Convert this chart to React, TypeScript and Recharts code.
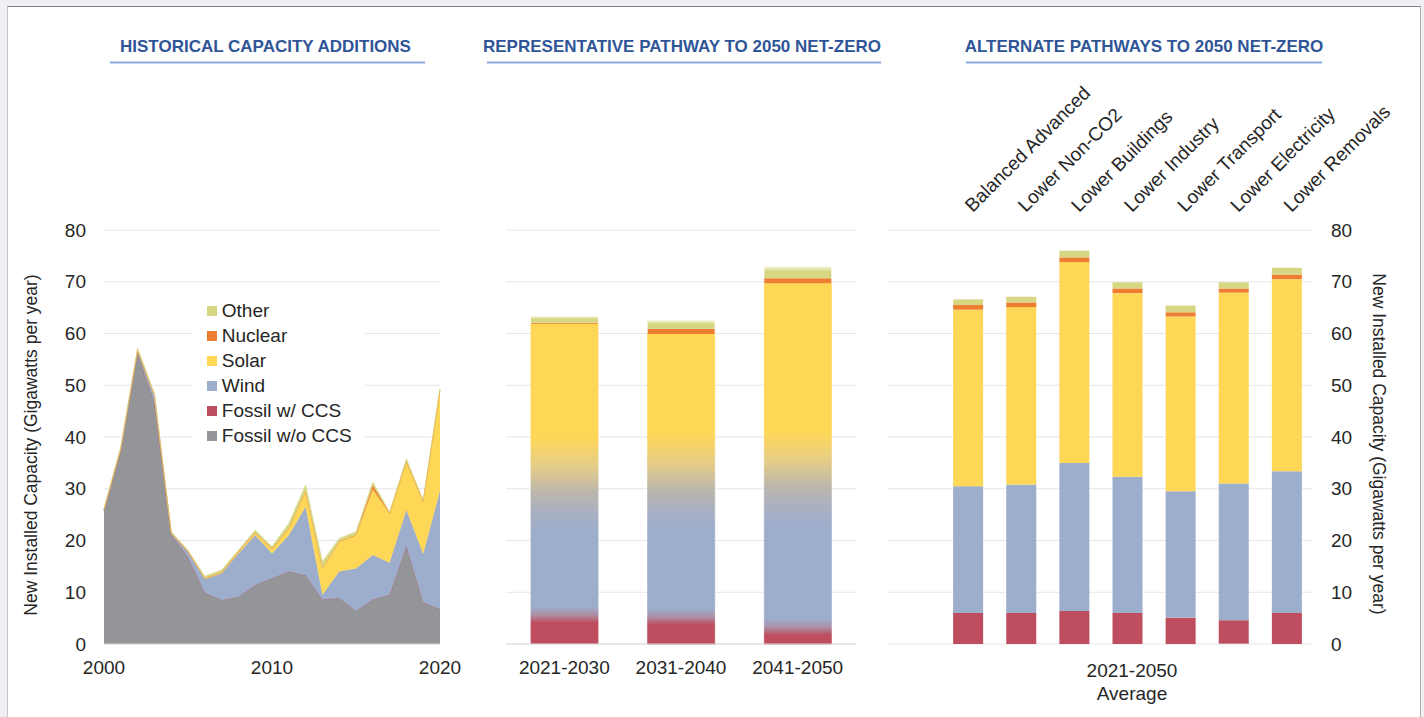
import React from 'react';
import { AreaChart, Area, BarChart, Bar, Cell, XAxis, YAxis, CartesianGrid, Legend } from 'recharts';

const FONT = '"Liberation Sans", Arial, Helvetica, sans-serif';
const TEXT = '#262626';
const GRID = '#e6e6e6';
const AXIS = '#d9d9d9';
const TITLE = '#2f5597';

const COLORS: Record<string, string> = {
  other: '#d7d682',
  nuclear: '#ed7d31',
  solar: '#fed757',
  wind: '#9dadcc',
  fossilCcs: '#be4e5f',
  fossilNo: '#939598',
};
const MID = '#bdb7ab';
const TAN = '#e6cd86';

// stacking order, bottom to top
const SERIES = [
  { key: 'fossilNo', name: 'Fossil w/o CCS' },
  { key: 'fossilCcs', name: 'Fossil w/ CCS' },
  { key: 'wind', name: 'Wind' },
  { key: 'solar', name: 'Solar' },
  { key: 'nuclear', name: 'Nuclear' },
  { key: 'other', name: 'Other' },
];

const Y_TICKS = [0, 10, 20, 30, 40, 50, 60, 70, 80];

// historical capacity additions (GW per year)
const HIST_YEARS = [2000, 2001, 2002, 2003, 2004, 2005, 2006, 2007, 2008, 2009, 2010, 2011, 2012, 2013, 2014, 2015, 2016, 2017, 2018, 2019, 2020];
const HIST_FOSSIL_NO = [25.8, 37.4, 56.3, 46.6, 21.2, 16.8, 9.9, 8.5, 9.1, 11.4, 12.7, 14.0, 13.3, 8.6, 8.9, 6.4, 8.6, 9.5, 18.9, 8.0, 6.7];
const HIST_FOSSIL_CCS = [0, 0, 0, 0, 0, 0, 0, 0, 0, 0, 0, 0, 0, 0, 0, 0, 0, 0, 0, 0, 0];
const HIST_WIND = [0.1, 0.3, 0.4, 1.4, 0.2, 1.0, 2.6, 5.1, 8.4, 9.6, 4.8, 7.0, 13.2, 0.9, 5.1, 8.2, 8.6, 6.2, 7.0, 9.4, 22.9];
const HIST_SOLAR = [0, 0, 0, 0, 0, 0, 0.1, 0.1, 0.3, 0.4, 0.8, 1.3, 2.9, 5.1, 5.7, 6.4, 12.7, 9.5, 9.3, 10.1, 19.4];
const HIST_NUCLEAR = [0.1, 0.1, 0.1, 0.1, 0.1, 0.1, 0.1, 0.1, 0.1, 0.1, 0.1, 0.1, 0.1, 0.1, 0.1, 0.1, 0.8, 0.1, 0.1, 0.1, 0.1];
const HIST_OTHER = [0.2, 0.3, 0.4, 0.3, 0.2, 0.2, 0.4, 0.5, 0.2, 0.5, 0.4, 0.9, 1.2, 1.2, 0.6, 0.6, 0.6, 0.2, 0.5, 0.2, 0.2];

// representative pathway
const MID_PERIODS = ['2021-2030', '2031-2040', '2041-2050'];
const MID_FOSSIL_NO = [0.1, 0, 0];
const MID_FOSSIL_CCS = [5.3, 5.0, 3.0];
const MID_WIND = [23.1, 24.0, 26.5];
const MID_SOLAR = [33.4, 30.9, 40.2];
const MID_NUCLEAR = [0.2, 1.0, 1.0];
const MID_OTHER = [1.2, 1.6, 2.2];

// alternate pathways, 2021-2050 average (first slot left empty)
const ALT_NAMES = ['', 'Balanced Advanced', 'Lower Non-CO2', 'Lower Buildings', 'Lower Industry', 'Lower Transport', 'Lower Electricity', 'Lower Removals'];
const ALT_FOSSIL_NO = [0, 0, 0, 0, 0, 0, 0.1, 0];
const ALT_FOSSIL_CCS = [0, 6.0, 6.0, 6.4, 6.0, 5.1, 4.5, 6.0];
const ALT_WIND = [0, 24.5, 24.8, 28.6, 26.3, 24.4, 26.4, 27.4];
const ALT_SOLAR = [0, 34.1, 34.3, 38.8, 35.5, 33.8, 36.9, 37.1];
const ALT_NUCLEAR = [0, 0.9, 0.9, 0.9, 0.9, 0.8, 0.8, 0.9];
const ALT_OTHER = [0, 1.1, 1.1, 1.3, 1.2, 1.3, 1.2, 1.3];

const histData = HIST_YEARS.map((year, i) => ({
  year,
  fossilNo: HIST_FOSSIL_NO[i],
  fossilCcs: HIST_FOSSIL_CCS[i],
  wind: HIST_WIND[i],
  solar: HIST_SOLAR[i],
  nuclear: HIST_NUCLEAR[i],
  other: HIST_OTHER[i],
}));

const midData = MID_PERIODS.map((period, i) => ({
  period,
  fossilNo: MID_FOSSIL_NO[i],
  fossilCcs: MID_FOSSIL_CCS[i],
  wind: MID_WIND[i],
  solar: MID_SOLAR[i],
  nuclear: MID_NUCLEAR[i],
  other: MID_OTHER[i],
}));

const altData = ALT_NAMES.map((name, i) => ({
  name,
  fossilNo: ALT_FOSSIL_NO[i],
  fossilCcs: ALT_FOSSIL_CCS[i],
  wind: ALT_WIND[i],
  solar: ALT_SOLAR[i],
  nuclear: ALT_NUCLEAR[i],
  other: ALT_OTHER[i],
}));

// --- colour blending for the faded middle bars ---
type Stop = { v: number; c: string };
const rgb = (h: string) => [1, 3, 5].map((p) => parseInt(h.slice(p, p + 2), 16));
const toHex = (m: number[]) => '#' + m.map((c) => c.toString(16).padStart(2, '0')).join('');
const mix = (a: string, b: string, t: number) => {
  const x = rgb(a);
  const y = rgb(b);
  return toHex(x.map((c, k) => Math.round(c + (y[k] - c) * t)));
};
const colorAt = (stops: Stop[], v: number) => {
  if (v <= stops[0].v) return stops[0].c;
  for (let j = 0; j < stops.length - 1; j++) {
    const a = stops[j];
    const b = stops[j + 1];
    if (v >= a.v && v <= b.v) return mix(a.c, b.c, b.v === a.v ? 0 : (v - a.v) / (b.v - a.v));
  }
  return stops[stops.length - 1].c;
};
const segStops = (stops: Stop[], lo: number, hi: number) => {
  const list = [{ o: 0, c: colorAt(stops, hi) }];
  stops.filter((s) => s.v > lo && s.v < hi).forEach((s) => list.push({ o: (hi - s.v) / (hi - lo), c: s.c }));
  list.push({ o: 1, c: colorAt(stops, lo) });
  return list.sort((a, b) => a.o - b.o);
};

const FADED = ['fossilCcs', 'wind', 'solar'];

const MidDefs = () => (
  <defs>
    {midData.map((d, i) => {
      const r = d.fossilNo + d.fossilCcs;
      const w = r + d.wind;
      const s = w + d.solar;
      const stops: Stop[] = [
        { v: 0, c: COLORS.fossilCcs },
        { v: r - 1.3, c: COLORS.fossilCcs },
        { v: r + 0.2, c: '#ad8ea3' },
        { v: r + 1.8, c: COLORS.wind },
        { v: w - 7, c: COLORS.wind },
        { v: w - 3, c: '#a9b0c1' },
        { v: w + 1, c: MID },
        { v: w + 6, c: TAN },
        { v: w + 11.5, c: COLORS.solar },
        { v: s + 10, c: COLORS.solar },
      ];
      const bounds: Record<string, [number, number]> = {
        fossilCcs: [d.fossilNo, r],
        wind: [r, w],
        solar: [w, s],
      };
      return FADED.map((k) => (
        <linearGradient key={`${k}-${i}`} id={`g-${k}-${i}`} x1="0" y1="0" x2="0" y2="1">
          {segStops(stops, bounds[k][0], bounds[k][1]).map((st, n) => (
            <stop key={n} offset={st.o} stopColor={st.c} />
          ))}
        </linearGradient>
      ));
    })}
    <linearGradient id="g-other" x1="0" y1="0" x2="0" y2="1">
      <stop offset={0} stopColor="#f1f1cf" />
      <stop offset={0.45} stopColor={COLORS.other} />
      <stop offset={1} stopColor={COLORS.other} />
    </linearGradient>
  </defs>
);

const tickStyle = { fill: TEXT, fontSize: 19, fontFamily: FONT };

const HistLegend = () => (
  <div style={{ background: '#fff', width: 172, height: 150, paddingTop: 1.5, boxSizing: 'border-box', fontFamily: FONT }}>
    {[...SERIES].reverse().map((s) => (
      <div key={s.key} style={{ height: 25, display: 'flex', alignItems: 'center', fontSize: 19, color: TEXT, whiteSpace: 'nowrap' }}>
        <span style={{ width: 9.5, height: 9.5, marginLeft: 14.3, marginRight: 5, background: COLORS[s.key], display: 'inline-block', flex: 'none' }} />
        <span>{s.name}</span>
      </div>
    ))}
  </div>
);

const AltTick = (props: any) => {
  const { x, y, payload } = props;
  if (!payload || !payload.value) return null;
  const px = x + 5;
  return (
    <text x={px} y={y} transform={`rotate(-45 ${px} ${y})`} textAnchor="start" fill={TEXT} fontSize={19} fontFamily={FONT}>
      {payload.value}
    </text>
  );
};

const midFill = (key: string, i: number) =>
  FADED.includes(key) ? `url(#g-${key}-${i})` : key === 'other' ? 'url(#g-other)' : COLORS[key];

const App = () => (
  <div style={{ position: 'absolute', left: 0, top: 0, width: 1424, height: 717, background: '#f0eff4', overflow: 'hidden', fontFamily: FONT }}>
    <div style={{ position: 'absolute', left: 7, top: 6, width: 1412, height: 720, background: '#fff', borderTop: '1.5px solid #808085', borderLeft: '1px solid #c9c9cd', borderRight: '1px solid #b0b0b4' }} />

    <div style={{ position: 'absolute', left: 0, top: 0 }}>
      <AreaChart width={470} height={700} data={histData} margin={{ top: 230, right: 30, bottom: 26, left: 50 }}>
        <CartesianGrid vertical={false} stroke={GRID} />
        <XAxis dataKey="year" type="number" domain={[2000, 2020]} ticks={[2000, 2010, 2020]} height={30} tickLine={false} tickSize={0} tickMargin={17} axisLine={{ stroke: AXIS }} tick={tickStyle} />
        <YAxis domain={[0, 80]} ticks={Y_TICKS} width={54} axisLine={false} tickLine={false} tickSize={0} tickMargin={18} tick={tickStyle} />
        {SERIES.map((s) => (
          <Area key={s.key} type="linear" dataKey={s.key} name={s.name} stackId="h" fill={COLORS[s.key]} fillOpacity={1} stroke={COLORS[s.key]} strokeWidth={0.6} isAnimationActive={false} />
        ))}
        <Legend layout="vertical" align="center" verticalAlign="middle" content={() => <HistLegend />} wrapperStyle={{ left: 193, top: 297, width: 172, height: 150 }} />
      </AreaChart>
    </div>

    <div style={{ position: 'absolute', left: 480, top: 0 }}>
      <BarChart width={400} height={700} data={midData} margin={{ top: 230, right: 24, bottom: 26, left: 26 }}>
        <MidDefs />
        <CartesianGrid vertical={false} stroke={GRID} />
        <XAxis dataKey="period" height={30} tickLine={false} tickSize={0} tickMargin={17} axisLine={{ stroke: AXIS }} tick={tickStyle} />
        <YAxis hide domain={[0, 80]} ticks={Y_TICKS} />
        {SERIES.map((s) => (
          <Bar key={s.key} dataKey={s.key} name={s.name} stackId="m" fill={COLORS[s.key]} barSize={67} isAnimationActive={false}>
            {midData.map((d, i) => (
              <Cell key={i} fill={midFill(s.key, i)} stroke={FADED.includes(s.key) ? midFill(s.key, i) : 'none'} strokeWidth={0.8} />
            ))}
          </Bar>
        ))}
      </BarChart>
    </div>

    <div style={{ position: 'absolute', left: 860, top: 0 }}>
      <BarChart width={564} height={717} data={altData} margin={{ top: 200, right: 51, bottom: 73, left: 28 }}>
        <CartesianGrid vertical={false} stroke={GRID} />
        <XAxis dataKey="name" orientation="top" height={30} interval={0} axisLine={false} tickLine={false} tickSize={0} tickMargin={17} tick={<AltTick />} />
        <YAxis orientation="right" domain={[0, 80]} ticks={Y_TICKS} width={60} axisLine={false} tickLine={false} tickSize={0} tickMargin={18} tick={tickStyle} />
        {SERIES.map((s) => (
          <Bar key={s.key} dataKey={s.key} name={s.name} stackId="a" fill={COLORS[s.key]} barSize={30} isAnimationActive={false} />
        ))}
      </BarChart>
    </div>

    <svg width={1424} height={717} style={{ position: 'absolute', left: 0, top: 0, pointerEvents: 'none' }}>
      <g fontFamily={FONT} fontWeight="bold" fontSize={17} fill={TITLE} textAnchor="middle">
        <text x={265.5} y={52}>HISTORICAL CAPACITY ADDITIONS</text>
        <text x={682} y={52}>REPRESENTATIVE PATHWAY TO 2050 NET-ZERO</text>
        <text x={1144} y={52}>ALTERNATE PATHWAYS TO 2050 NET-ZERO</text>
      </g>
      <g fill="#8eaadb">
        <rect x={110} y={61.5} width={315} height={2} />
        <rect x={487} y={61.5} width={394} height={2} />
        <rect x={966} y={61.5} width={356} height={2} />
      </g>
      <g fontFamily={FONT} fontSize={17.5} fill={TEXT} textAnchor="middle">
        <text x={36.5} y={445} transform="rotate(-90 36.5 445)">New Installed Capacity (Gigawatts per year)</text>
        <text x={1373} y={444} transform="rotate(90 1373 444)">New Installed Capacity (Gigawatts per year)</text>
      </g>
      <g fontFamily={FONT} fontSize={19} fill={TEXT} textAnchor="middle">
        <text x={1132} y={677}>2021-2050</text>
        <text x={1132} y={699.5}>Average</text>
      </g>
    </svg>
  </div>
);

export default App;
